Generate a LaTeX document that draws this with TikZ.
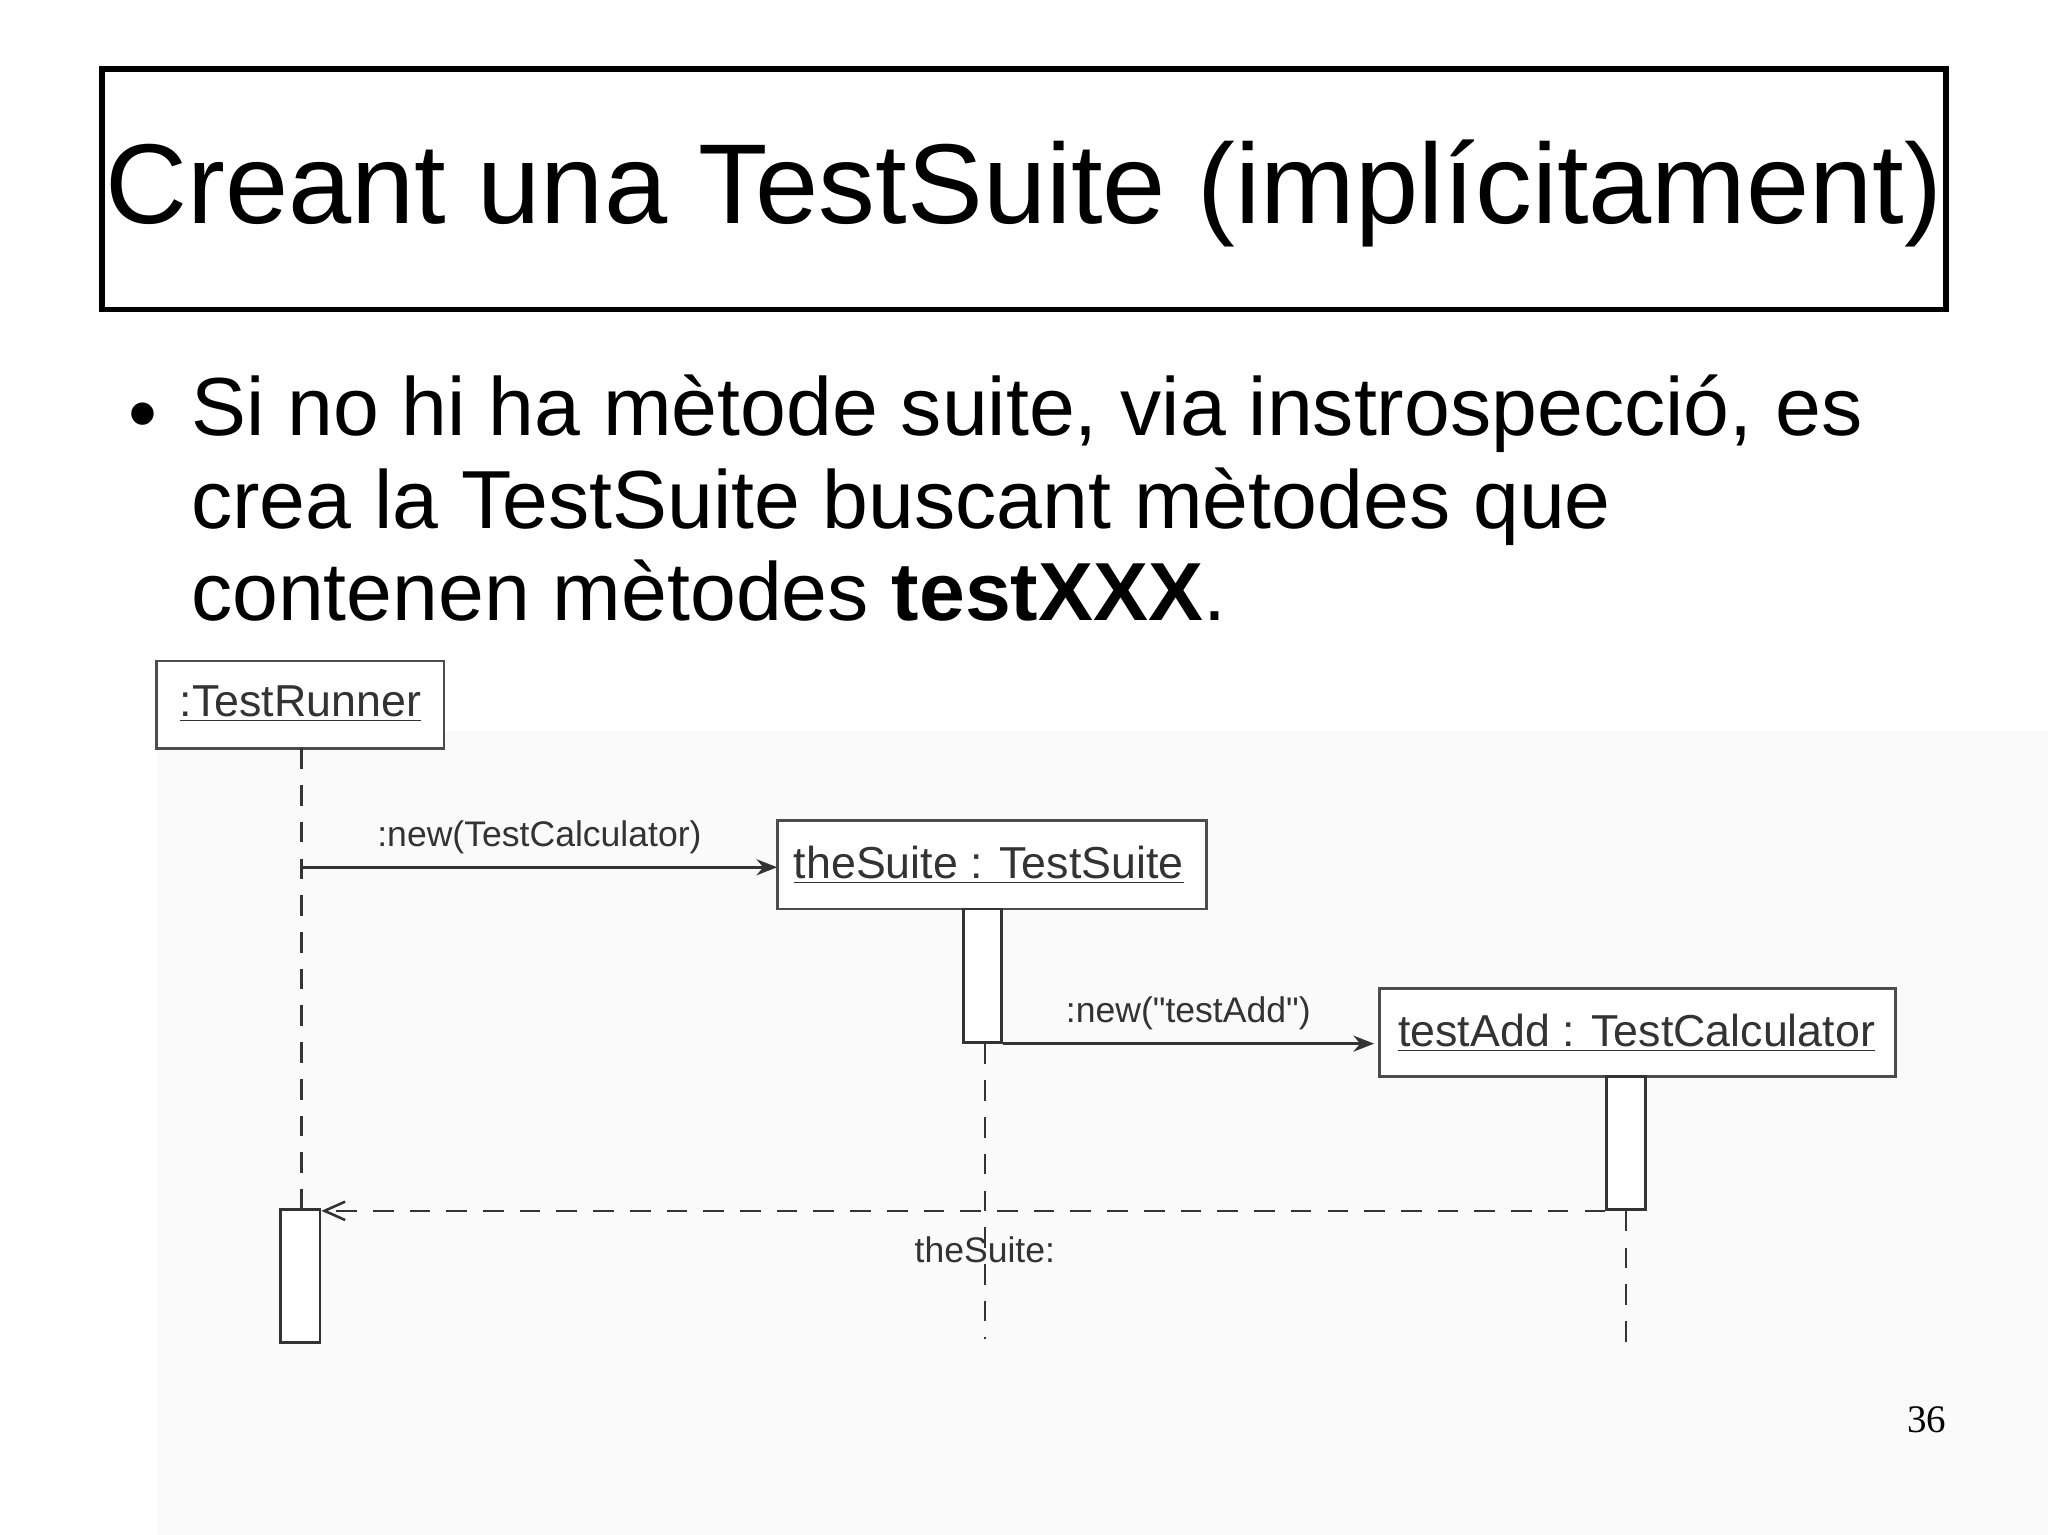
\documentclass[tikz,border=0pt]{standalone}
\usepackage{fontspec}
\setmainfont{Liberation Sans}
\newfontfamily\pgserif{Liberation Serif}
\usetikzlibrary{arrows.meta}
\begin{document}
\begin{tikzpicture}[x=0.02cm,y=-0.02cm,
  obj/.style={draw=black!70,line width=1.2pt,fill=white,inner sep=0pt,anchor=north west},
  act/.style={draw=black!80,line width=1.2pt,fill=white},
  life/.style={draw=black!80,line width=1.1pt,dash pattern=on 9pt off 7pt},
  msg/.style={draw=black!80,line width=1.1pt,-{Stealth[length=9pt,width=7pt]}},
  lbl/.style={text=black!80,font=\fontsize{15.5}{18}\selectfont},
  otext/.style={text=black!80,font=\fontsize{19.5}{22}\selectfont}]
\useasboundingbox (0,0) rectangle (1568,1175);
\fill[black!2] (120,560) rectangle (1568,1175);
% title
\draw[line width=2.4pt] (78,53) rectangle (1490,237);
\node[font=\fontsize{49.5}{55}\selectfont] (title) at (784,148) {Creant una TestSuite (implícitament)};
% bullet
\node[anchor=base west,font=\fontsize{36}{40}\selectfont] (bul) at (92,338) {•};
\node[anchor=north west,align=left,inner sep=0pt,font=\fontsize{35.9}{40.3}\selectfont] (body) at (146,287)
 {Si no hi ha mètode suite, via instrospecció, es\\ crea la TestSuite buscant mètodes que\\ contenen mètodes \textbf{testXXX}.};
% objects
\draw[obj] (120,506) rectangle (340,573);
\node[otext] (tr) at (230,539) {\underline{:TestRunner}};
\coordinate (trb) at (231,573);
\draw[obj] (595,628) rectangle (924,696);
\node[otext] (ts) at (757,662) {\underline{theSuite : TestSuite}};
\draw[obj] (1056,757) rectangle (1451,824);
\node[otext] (ta) at (1253,791) {\underline{testAdd : TestCalculator}};
% activations
\node[act,minimum width=0.6cm,minimum height=2.04cm] (a1) at (230,977) {};
\node[act,minimum width=0.58cm,minimum height=2.04cm] (a2) at (752,747) {};
\node[act,minimum width=0.6cm,minimum height=2.04cm] (a3) at (1245,875) {};
% lifelines
\draw[life] (trb) -- (a1.north -| trb);
\coordinate (l2e) at (754,1025);
\draw[life] (a2.south -| l2e) -- (l2e);
\coordinate (l3e) at (1245,1028);
\draw[life] (a3.south) -- (l3e);
% messages
\coordinate (m1) at (231,664);
\draw[msg] (m1) -- (m1 -| 595,0) node[lbl,pos=0.5,above=2pt] (m1l) {:new(TestCalculator)};
\draw[msg] (a2.south east) -- (a2.south east -| 1052,0) node[lbl,pos=0.5,above=2pt] (m2l) {:new(\textquotedbl testAdd\textquotedbl)};
\draw[life,-{Straight Barb[length=9pt,width=8pt]}] (a3.south west) -- (a3.south west -| a1.north east);
\node[lbl] (rl) at (754,957) {theSuite:};
\node[font=\fontsize{17}{20}\selectfont\pgserif] (pg) at (1475,1087) {36};
\end{tikzpicture}
\end{document}
